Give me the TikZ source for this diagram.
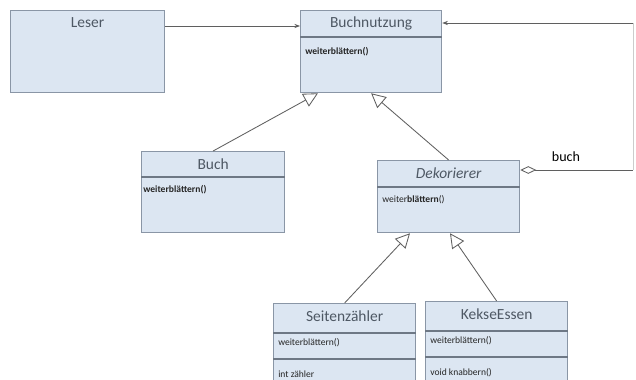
\documentclass[tikz,border=0pt]{standalone}
\usepackage{fontspec}
\setmainfont{Carlito}
\usetikzlibrary{arrows.meta}
\usetikzlibrary{calc}

\definecolor{kastenblau}{RGB}{220,230,242}
\definecolor{rahmen}{RGB}{138,150,166}
\definecolor{schrift}{RGB}{78,88,100}
\definecolor{linie}{RGB}{95,95,95}

\tikzset{
	kasten/.style={draw=rahmen, fill=kastenblau, line width=0.9pt, inner sep=0pt, anchor=north west},
	titel/.style={text=schrift, inner sep=0pt, font=\fontsize{11}{13}\selectfont},
	methode/.style={anchor=west, inner sep=0pt, text=black!85, font=\fontsize{6.8}{8}\selectfont},
	trenn/.style={draw=rahmen!80!black, line width=0.9pt},
	pfeil/.style={draw=linie, line width=0.6pt, -{Stealth[length=4pt, width=3pt]}},
	erbt/.style={draw=linie, line width=0.6pt, -{Triangle[open, length=0.36cm, width=0.36cm]}},
	aggr/.style={draw=linie, line width=0.6pt, {Diamond[open, length=0.4cm, width=0.19cm]}-},
	rolle/.style={text=black, inner sep=0pt, font=\fontsize{10}{12}\selectfont}
}

\newcommand{\klasse}[6] % name, x, y (top left, px), width, height, title
{
	% box
	\node[kasten, minimum width=#4*0.025cm, minimum height=#5*0.025cm] (#1) at (#2,#3) {};
	% class name
	\node[titel] (#1-titel) at ($(#1.north)+(0,13)$) {#6};
}
\newcommand{\trennlinie}[2] % name, offset from top (px)
{
	\draw[trenn] ($(#1.north west)+(0,#2)$) -- ($(#1.north east)+(0,#2)$);
}

\begin{document}
\begin{tikzpicture}[x=0.025cm, y=-0.025cm]
	% 636 x 380 px, 1px = 0.25mm
	\clip (0,0) rectangle (636,380);
	\fill[white] (0,0) rectangle (636,380);

	\klasse{leser}{10}{10}{154}{82}{Leser};

	\klasse{bn}{300}{10}{141}{82}{Buchnutzung};
	\trennlinie{bn}{27};
	\node[methode, font=\fontsize{6.8}{8}\selectfont\bfseries] (bn-m1) at ($(bn.north west)+(5,42)$) {weiterblättern()};

	\klasse{buch}{141}{151}{143}{81}{Buch};
	\trennlinie{buch}{26};
	\node[methode, font=\fontsize{6.8}{8}\selectfont\bfseries] (buch-m1) at ($(buch.north west)+(2,39)$) {weiterblättern()};

	\klasse{dek}{377}{160}{142}{72}{\itshape Dekorierer};
	\trennlinie{dek}{27};
	\node[methode] (dek-m1) at ($(dek.north west)+(5,40)$) {weiter\textbf{blättern}()};

	\klasse{sz}{273}{303}{142}{100}{Seitenzähler};
	\trennlinie{sz}{30};
	\trennlinie{sz}{56};
	\node[methode] (sz-m1) at ($(sz.north west)+(5,40)$) {weiterblättern()};
	\node[methode] (sz-a1) at ($(sz.north west)+(5,71)$) {int zähler};

	\klasse{ke}{425}{301}{142}{100}{KekseEssen};
	\trennlinie{ke}{30};
	\trennlinie{ke}{56};
	\node[methode] (ke-m1) at ($(ke.north west)+(5,40)$) {weiterblättern()};
	\node[methode] (ke-m2) at ($(ke.north west)+(5,72)$) {void knabbern()};

	% connections
	\draw[pfeil] ($(leser.north east)+(0,16)$) -- ($(bn.north west)+(0,16)$);
	\draw[erbt] (buch.north) -- ($(bn.south west)+(18,0)$);
	\draw[erbt] (dek.north) -- (bn.south);
	\draw[erbt] (sz.north) -- ($(dek.south west)+(33,0)$);
	\draw[erbt] (ke.north) -- ($(dek.south west)+(73,0)$);

	% aggregation, back to Buchnutzung along the right edge
	\coordinate (ecke-unten) at (633,170);
	\coordinate (ecke-oben) at (633,23);
	\draw[aggr] ($(dek.north east)+(0,10)$) -- (ecke-unten);
	\draw[draw=black!20, line width=0.6pt] (ecke-unten) -- (ecke-oben);
	\draw[pfeil] (ecke-oben) -- ($(bn.north east)+(0,13)$);
	\node[rolle] (rolle-buch) at (566,157) {buch};
\end{tikzpicture}
\end{document}
